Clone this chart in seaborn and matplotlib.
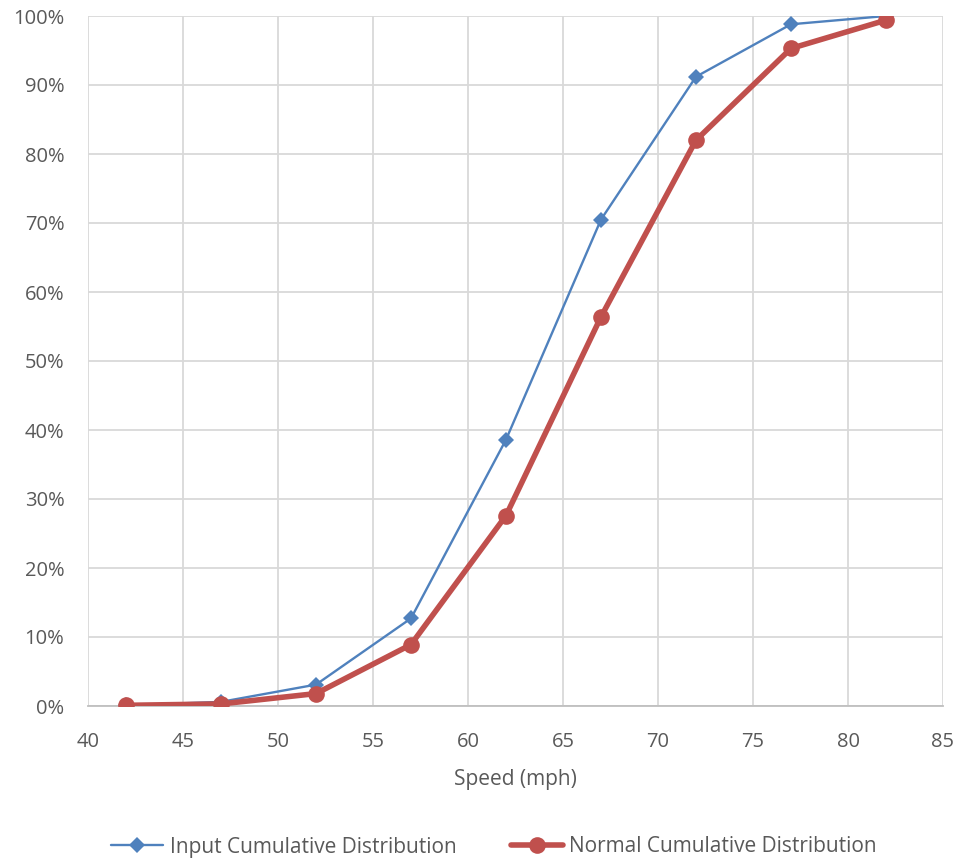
import matplotlib
matplotlib.use("Agg")
import matplotlib.pyplot as plt
import seaborn as sns
import pandas as pd
from matplotlib.ticker import PercentFormatter, MultipleLocator

speed = [42, 47, 52, 57, 62, 67, 72, 77, 82]
input_cdf = [0.1, 0.6, 3.1, 12.7, 38.6, 70.5, 91.2, 98.8, 100.0]
normal_cdf = [0.1, 0.3, 1.8, 8.9, 27.6, 56.4, 82.0, 95.3, 99.4]
series_names = ["Input Cumulative Distribution", "Normal Cumulative Distribution"]

sns.set_theme(style="white")
plt.rcParams['font.family'] = ['Open Sans', 'DejaVu Sans']

df = pd.concat([
    pd.DataFrame({"Speed": speed, "Value": input_cdf, "Series": series_names[0]}),
    pd.DataFrame({"Speed": speed, "Value": normal_cdf, "Series": series_names[1]}),
])

fig = plt.figure(figsize=(9.57, 8.59), dpi=100)
ax = fig.add_axes([88/957, 1 - 706/859, (943-88)/957, (706-16)/859])

text_color = "#595959"
grid_color = "#d9d9d9"

sns.lineplot(data=df[df.Series == series_names[0]], x="Speed", y="Value", ax=ax,
             color="#4f81bd", linewidth=1.7, marker="D", markersize=8,
             markeredgewidth=0, label=series_names[0], zorder=3)
sns.lineplot(data=df[df.Series == series_names[1]], x="Speed", y="Value", ax=ax,
             color="#c0504d", linewidth=4, marker="o", markersize=12,
             markeredgewidth=0, label=series_names[1], zorder=4)

ax.set_xlim(40, 85)
ax.set_ylim(0, 100)
ax.xaxis.set_major_locator(MultipleLocator(5))
ax.yaxis.set_major_locator(MultipleLocator(10))
ax.yaxis.set_major_formatter(PercentFormatter(decimals=0))
ax.grid(True, color=grid_color, linewidth=1.3)
ax.set_axisbelow(True)
for s in ["top", "right", "left"]:
    ax.spines[s].set_visible(False)
ax.spines["bottom"].set_color("#bfbfbf")
ax.spines["bottom"].set_linewidth(1.3)
ax.tick_params(axis="both", colors=text_color, labelsize=14.5, length=0)
ax.tick_params(axis="x", pad=19)
ax.tick_params(axis="y", pad=17)
ax.set_xlabel("Speed (mph)", fontsize=15, color=text_color, labelpad=12)
ax.set_ylabel("")

handles, labels = ax.get_legend_handles_labels()
ax.get_legend().remove()
fig.legend(handles, labels, loc="center", bbox_to_anchor=(494/957, 1 - 847/859),
           ncol=2, frameon=False, fontsize=15, labelcolor=text_color,
           handlelength=2.5, handletextpad=0.3, columnspacing=2.6)

fig.savefig("out.png", dpi=100)
